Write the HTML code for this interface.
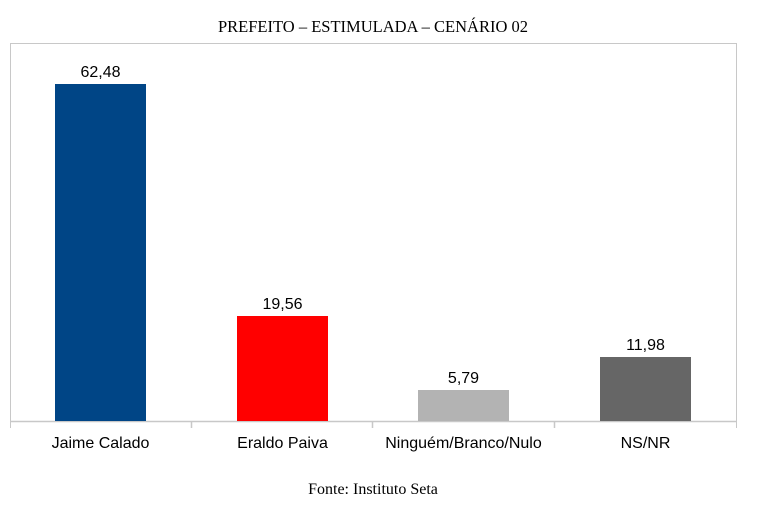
<!DOCTYPE html>
<html><head><meta charset="utf-8"><style>body{margin:0;background:#fff}</style></head><body>
<svg width="760" height="520" xmlns="http://www.w3.org/2000/svg">
<rect width="760" height="520" fill="#fff"/>
<text x="373" y="32" text-anchor="middle" font-family="Liberation Serif, serif" font-size="16.5" fill="#000">PREFEITO – ESTIMULADA – CENÁRIO 02</text>
<path d="M10.5 428V43.5H736.5V428" fill="none" stroke="#c8c8c8" stroke-width="1"/>
<path d="M10 421.5H737M191.5 421V428M372.5 421V428M554.5 421V428" fill="none" stroke="#c8c8c8" stroke-width="1.5"/>
<rect x="55" y="84" width="91" height="337" fill="#004586"/>
<rect x="237" y="316" width="91" height="105" fill="#ff0000"/>
<rect x="418" y="390" width="91" height="31" fill="#b3b3b3"/>
<rect x="600" y="357" width="91" height="64" fill="#666666"/>
<g font-family="Liberation Sans, sans-serif" font-size="16" fill="#000" text-anchor="middle">
<text x="100.5" y="77">62,48</text>
<text x="282.5" y="309">19,56</text>
<text x="463.5" y="383">5,79</text>
<text x="645.5" y="350">11,98</text>
<text x="100.5" y="448">Jaime Calado</text>
<text x="282.5" y="448">Eraldo Paiva</text>
<text x="463.5" y="448">Ninguém/Branco/Nulo</text>
<text x="645.5" y="448">NS/NR</text>
</g>
<text x="373" y="494" text-anchor="middle" font-family="Liberation Serif, serif" font-size="16" fill="#000">Fonte: Instituto Seta</text>
</svg>
</body></html>
